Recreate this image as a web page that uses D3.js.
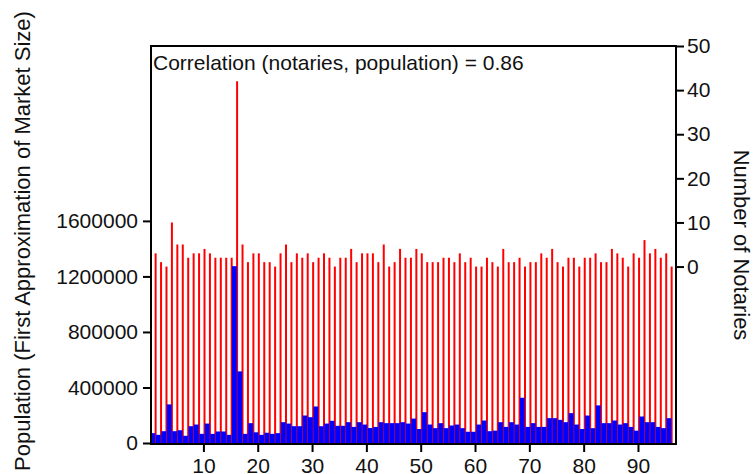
<!DOCTYPE html>
<html>
<head>
<meta charset="utf-8">
<script src="https://cdn.jsdelivr.net/npm/d3@7/dist/d3.min.js"></script>
<style>
    body { margin: 0; background: #fff; }
    text { font-family: "Liberation Sans", Arial, sans-serif; fill: #111; }
</style>
</head>
<body>
<div id="graph"></div>
<script>
// number of notaries per district (right axis)
var notaries = [
    3, 1, 0, 10, 5, 5, 2, 3, 3, 4,
    3, 2, 2, 2, 2, 42, 5, 1, 3, 3,
    1, 1, 0, 3, 5, 1, 3, 2, 3, 1,
    2, 3, 2, 0, 2, 2, 4, 1, 3, 3,
    3, 1, 5, 0, 1, 4, 2, 2, 4, 3,
    1, 1, 1, 2, 2, 1, 3, 1, 2, 0,
    0, 2, 1, 0, 4, 1, 1, 2, 0, 1,
    1, 3, 2, 4, 1, 0, 2, 2, 0, 2,
    2, 3, 1, 1, 4, 3, 2, 0, 3, 2,
    6, 3, 4, 2, 3, 0
];

// population per district (left axis)
var population = [
    71000, 59000, 85000, 278000, 85000, 92000, 52000, 121000, 133000, 66000,
    140000, 66000, 83000, 83000, 59000, 1274000, 516000, 66000, 143000, 77000,
    59000, 74000, 66000, 71000, 150000, 140000, 121000, 121000, 198000, 186000,
    263000, 121000, 140000, 160000, 124000, 124000, 150000, 116000, 150000, 133000,
    108000, 116000, 150000, 143000, 143000, 143000, 150000, 140000, 176000, 101000,
    222000, 133000, 107000, 143000, 107000, 126000, 133000, 107000, 81000, 81000,
    133000, 162000, 85000, 89000, 150000, 116000, 150000, 133000, 326000, 116000,
    143000, 116000, 116000, 179000, 179000, 167000, 150000, 215000, 133000, 101000,
    198000, 107000, 271000, 143000, 143000, 162000, 133000, 143000, 116000, 89000,
    191000, 150000, 150000, 116000, 107000, 179000
];

var districts = notaries.map( function( d, i ) { return i + 1; });

var popTicks = [ 0, 400000, 800000, 1200000, 1600000 ];
var notaryTicks = [ 0, 10, 20, 30, 40, 50 ];
var districtTicks = [ 10, 20, 30, 40, 50, 60, 70, 80, 90 ];
var correlationLabel = 'Correlation (notaries, population) = 0.86';

drawChart();

function drawChart() {
    var width = 754;
    var height = 474;
    var pLeft = 151, pRight = 676, pTop = 46, pBottom = 444;
    var base = 443;

    var vis = d3.select( '#graph' ).append( 'svg' )
        .attr( 'width', width )
        .attr( 'height', height );

    var x = d3.scaleLinear().domain( [ 0.35, 97 ] ).range( [ pLeft, pRight ] );
    var yPop = d3.scaleLinear().domain( [ 0, 2860000 ] ).range( [ base, pTop ] );
    var yNot = d3.scaleLinear().domain( [ -40, 50 ] ).range( [ base, pTop ] );

    vis.append( 'defs' ).append( 'clipPath' ).attr( 'id', 'plot' )
        .append( 'rect' )
        .attr( 'x', pLeft ).attr( 'y', pTop )
        .attr( 'width', pRight - pLeft ).attr( 'height', pBottom - pTop );

    var plot = vis.append( 'g' ).attr( 'clip-path', 'url(#plot)' );

    // red sticks for notaries, drawn from the bottom of the plot
    plot.selectAll( 'line.notary' )
        .data( districts )
        .enter().append( 'line' )
        .attr( 'class', 'notary' )
        .attr( 'x1', function( d ) { return x( d + 0.2 ); })
        .attr( 'x2', function( d ) { return x( d + 0.2 ); })
        .attr( 'y1', base )
        .attr( 'y2', function( d, i ) { return yNot( notaries[ i ] ); })
        .attr( 'stroke', '#ff0000' )
        .attr( 'stroke-width', 2 );

    // blue step bars for population
    plot.selectAll( 'rect.pop' )
        .data( districts )
        .enter().append( 'rect' )
        .attr( 'class', 'pop' )
        .attr( 'x', function( d ) { return x( d - 0.8 ) + 0.3; })
        .attr( 'width', function( d ) { return x( d + 0.2 ) - x( d - 0.8 ) - 0.6; })
        .attr( 'y', function( d, i ) { return yPop( population[ i ] ); })
        .attr( 'height', function( d, i ) { return base - yPop( population[ i ] ); })
        .attr( 'fill', '#0000ff' );

    function styleAxis( g ) {
        g.select( '.domain' ).remove();
        g.selectAll( '.tick line' ).attr( 'stroke', '#000' ).attr( 'stroke-width', 2 );
        g.selectAll( '.tick text' )
            .attr( 'font-size', 21 )
            .attr( 'font-family', '"Liberation Sans", Arial, sans-serif' )
            .attr( 'fill', '#111' );
    }

    vis.append( 'g' )
        .attr( 'transform', 'translate(' + pLeft + ',0)' )
        .call( d3.axisLeft( yPop ).tickValues( popTicks ).tickFormat( d3.format( 'd' ) )
            .tickSize( 8 ).tickPadding( 5 ) )
        .call( styleAxis );

    vis.append( 'g' )
        .attr( 'transform', 'translate(' + pRight + ',0)' )
        .call( d3.axisRight( yNot ).tickValues( notaryTicks ).tickSize( 8 ).tickPadding( 3 ) )
        .call( styleAxis );

    vis.append( 'g' )
        .attr( 'transform', 'translate(0,' + pBottom + ')' )
        .call( d3.axisBottom( x ).tickValues( districtTicks ).tickSize( 8 ).tickPadding( 6 ) )
        .call( styleAxis );

    // frame
    vis.append( 'rect' )
        .attr( 'x', pLeft ).attr( 'y', pTop )
        .attr( 'width', pRight - pLeft ).attr( 'height', pBottom - pTop )
        .attr( 'fill', 'none' )
        .attr( 'stroke', '#000' )
        .attr( 'stroke-width', 2 );

    vis.append( 'text' )
        .attr( 'x', pLeft + 2 )
        .attr( 'y', 69.5 )
        .attr( 'font-size', 21 )
        .text( correlationLabel );

    vis.append( 'text' )
        .attr( 'transform', 'translate(30,241) rotate(-90)' )
        .attr( 'text-anchor', 'middle' )
        .attr( 'font-size', 22 )
        .text( 'Population (First Approximation of Market Size)' );

    vis.append( 'text' )
        .attr( 'transform', 'translate(734,245) rotate(90)' )
        .attr( 'text-anchor', 'middle' )
        .attr( 'font-size', 22 )
        .text( 'Number of Notaries' );
}
</script>
</body>
</html>
